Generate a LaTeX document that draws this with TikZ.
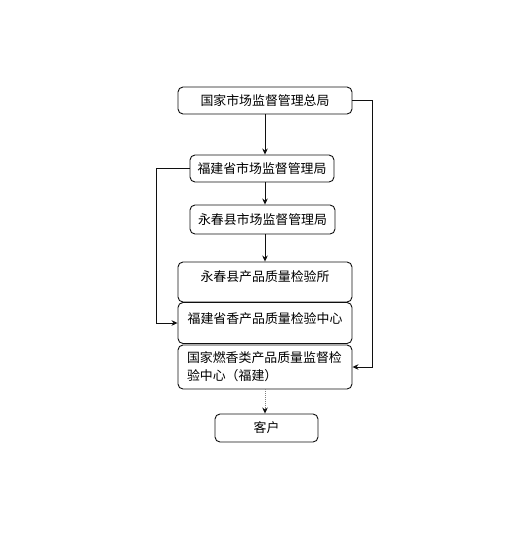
\documentclass[tikz,border=0pt]{standalone}
\usepackage{fontspec}
\setmainfont{Noto Sans CJK SC}
\usepackage{xcolor}
\usepackage{tikz}
\usetikzlibrary{arrows.meta}
\definecolor{linegray}{HTML}{101010}

\begin{document}
\begin{tikzpicture}[>={Stealth[length=6pt,width=5.5pt]}, x=1pt, y=-1pt, line width=0.9pt,
  box/.style={draw=linegray, rounded corners=5pt, fill=white, inner sep=0pt,
    minimum height=27pt, font=\fontsize{12.9}{18}\selectfont},
  wide/.style={box, minimum width=174pt}]
  \useasboundingbox (0,0) rectangle (518,539);
  % offices
  \node[wide] (zongju) at (265,100.5) {国家市场监督管理总局};
  \node[box, minimum width=144pt] (shengju) at (262,168.5) {福建省市场监督管理局};
  \node[box, minimum width=145pt, minimum height=29pt] (xianju) at (262.5,219.5) {永春县市场监督管理局};
  % test centres
  \node[wide, text height=19pt, text depth=21pt] (jianyansuo) at (265,282) {永春县产品质量检验所};
  \node[wide, text height=20.5pt, text depth=20.5pt] (shengzhongxin) at (265,323) {福建省香产品质量检验中心};
  \node[wide, minimum height=44pt, text width=156pt, align=left] (guozhongxin) at (265,367)
    {国家燃香类产品质量监督检\\验中心（福建）};
  \node[box, minimum width=103pt, minimum height=28pt] (kehu) at (266.5,428) {客户};
  % links
  \draw[->, linegray] (zongju.south) -- (zongju.south |- shengju.north);
  \draw[->, linegray] (shengju.south -| zongju.south) -- (zongju.south |- xianju.north);
  \draw[->, linegray] (xianju.south -| zongju.south) -- (zongju.south |- jianyansuo.north);
  \draw[->, linegray] (shengju.west) -- ++(-33,0) |- (shengzhongxin.west);
  \draw[->, linegray] (zongju.east) -- ++(20,0) |- (guozhongxin.east);
  \draw[-{Stealth[length=6pt,width=5.5pt,linegray]}, gray, densely dotted]
    (guozhongxin.south -| zongju.south) -- (zongju.south |- kehu.north);
\end{tikzpicture}
\end{document}
